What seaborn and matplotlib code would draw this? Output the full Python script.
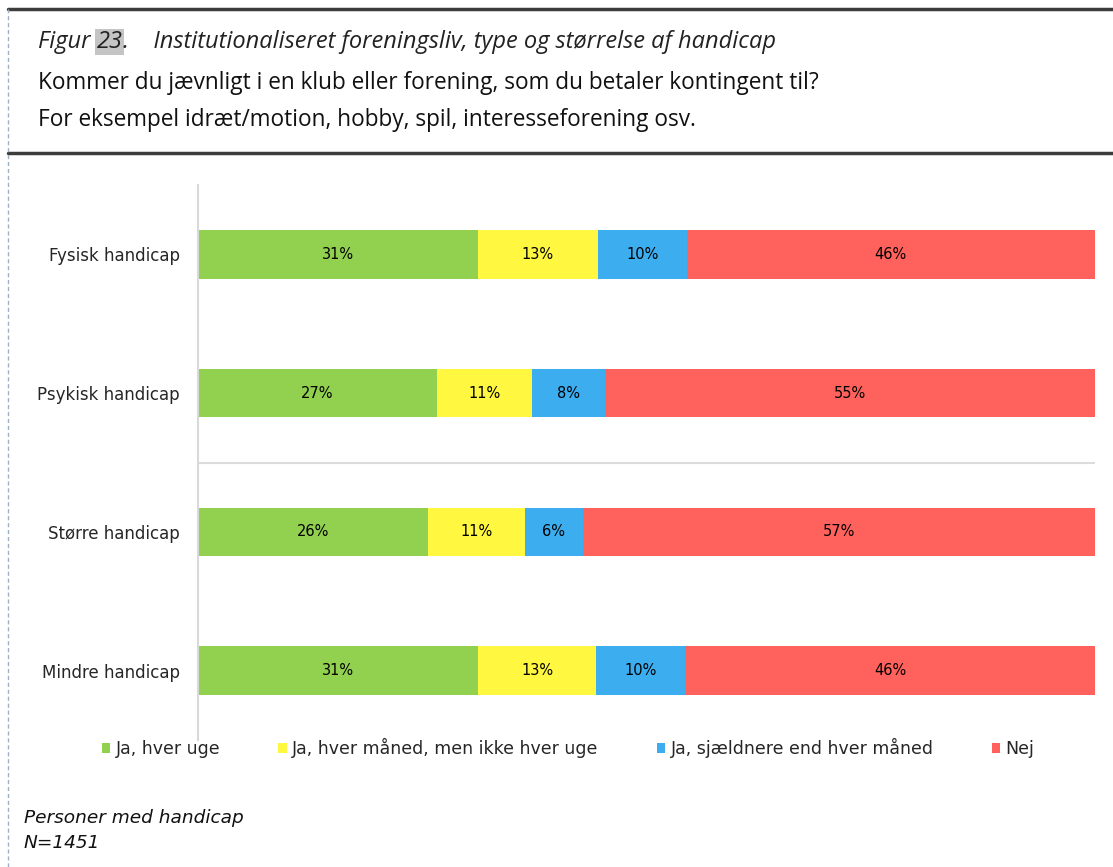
import pandas as pd
import matplotlib.pyplot as plt
import seaborn as sns
from matplotlib.lines import Line2D
from matplotlib.patches import Patch

# Data (shares in %)
categories = ["Fysisk handicap", "Psykisk handicap", "Større handicap", "Mindre handicap"]
answers = ["Ja, hver uge", "Ja, hver måned, men ikke hver uge",
           "Ja, sjældnere end hver måned", "Nej"]
ja_hver_uge = [31.2, 26.6, 25.6, 31.2]
ja_hver_maaned = [13.4, 10.6, 10.8, 13.2]
ja_sjaeldnere = [9.9, 8.2, 6.5, 10.0]
nej = [45.5, 54.6, 57.1, 45.6]
colors = ["#92d050", "#fff740", "#3caef0", "#ff625c"]

df = pd.DataFrame({
    "kategori": categories,
    answers[0]: ja_hver_uge,
    answers[1]: ja_hver_maaned,
    answers[2]: ja_sjaeldnere,
    answers[3]: nej,
})
# Cumulative sums so the segments can be drawn as overlaid bars
cum = df[answers].cumsum(axis=1)

sns.set_theme(style="white")
plt.rcParams["font.family"] = ["DejaVu Sans"]

fig = plt.figure(figsize=(11.13, 8.67), dpi=100)
ax = fig.add_axes([198 / 1113, 1 - 740 / 867, (1095 - 198) / 1113, (740 - 185) / 867])

# Draw from the right-most segment back to the first one
for ans, col in reversed(list(zip(answers, colors))):
    sns.barplot(x=cum[ans], y=df["kategori"], color=col, width=0.35,
                orient="h", ax=ax, saturation=1, linewidth=0)

# Percent labels centred in every segment
for i, cat in enumerate(categories):
    for ans in answers:
        v = df.loc[i, ans]
        mid = cum.loc[i, ans] - v / 2
        ax.text(mid, i, f"{round(v):.0f}%", ha="center", va="center",
                fontsize=10.5, color="black")

ax.set_xlim(0, 100)
ax.set_ylim(3.5, -0.5)
ax.axhline(1.5, color="#dcdcdc", lw=1.5, zorder=0)
ax.set_xlabel("")
ax.set_ylabel("")
ax.set_xticks([])
ax.tick_params(axis="y", length=0, pad=13, labelsize=12)
for s in ["top", "right", "bottom"]:
    ax.spines[s].set_visible(False)
ax.spines["left"].set_color("#d9d9d9")
ax.spines["left"].set_linewidth(1.5)

# Legend
handles = [Patch(facecolor=c, edgecolor="none") for c in colors]
fig.legend(handles, answers, loc="center left", bbox_to_anchor=(86 / 1113, 1 - 748 / 867),
           ncol=4, frameon=False, fontsize=12.5, handlelength=0.5, handleheight=0.5,
           handletextpad=0.3, columnspacing=3.35)

# Header frame lines
fig.add_artist(Line2D([8 / 1113, 1], [1 - 9 / 867] * 2, transform=fig.transFigure,
                      color="#3c3c3c", lw=2.5))
fig.add_artist(Line2D([8 / 1113, 1], [1 - 153 / 867] * 2, transform=fig.transFigure,
                      color="#3c3c3c", lw=2.5))
fig.add_artist(Line2D([8 / 1113] * 2, [0, 1 - 9 / 867], transform=fig.transFigure,
                      color="#9fb0c8", lw=1, ls=(0, (3, 2))))

# Title with highlighted figure number
head_font = ["Open Sans", "DejaVu Sans"]
t1 = fig.text(38 / 1113, 1 - 54 / 867, "Figur ", fontsize=17, style="italic",
              family=head_font, color="#222222", va="bottom")
t2 = ax.annotate("23", xy=(1, 0), xycoords=t1, va="bottom", fontsize=17, style="italic",
                 family=head_font, color="#222222",
                 bbox=dict(boxstyle="square,pad=0.05", facecolor="#c4c4c4", edgecolor="none"))
ax.annotate(".    Institutionaliseret foreningsliv, type og størrelse af handicap",
            xy=(1, 0), xycoords=t2, va="bottom", fontsize=17, style="italic",
            family=head_font, color="#222222")

fig.text(38 / 1113, 1 - 83 / 867,
         "Kommer du jævnligt i en klub eller forening, som du betaler kontingent til?",
         fontsize=16.3, family=head_font, color="#111111", va="center")
fig.text(38 / 1113, 1 - 120 / 867,
         "For eksempel idræt/motion, hobby, spil, interesseforening osv.",
         fontsize=16.3, family=head_font, color="#111111", va="center")

# Footnote
fig.text(24 / 1113, 1 - 818 / 867, "Personer med handicap", fontsize=13.3, style="italic",
         va="center", color="#111111")
fig.text(24 / 1113, 1 - 843 / 867, "N=1451", fontsize=13.3, style="italic",
         va="center", color="#111111")

fig.savefig("out.png", dpi=100)
